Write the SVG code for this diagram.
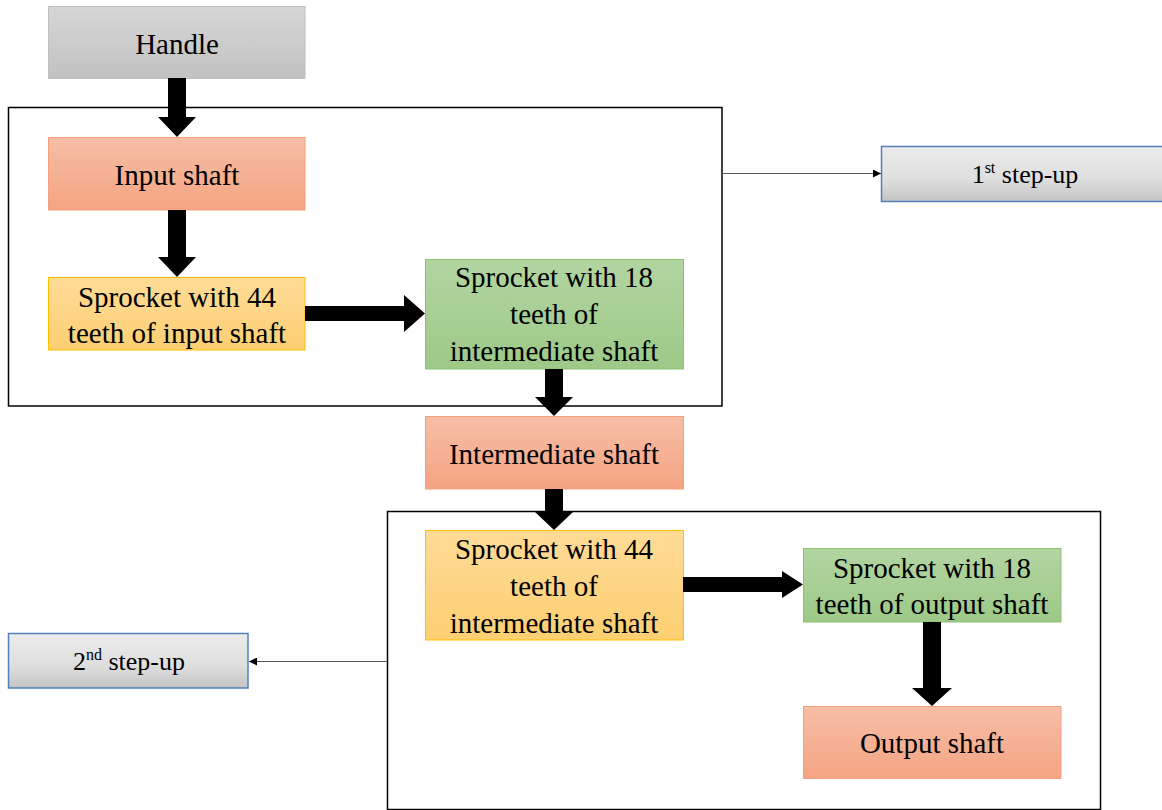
<svg xmlns="http://www.w3.org/2000/svg" width="1162" height="810" viewBox="0 0 1162 810">
<defs>
<linearGradient id="gGray" x1="0" y1="0" x2="0" y2="1"><stop offset="0" stop-color="#d6d6d6"/><stop offset="1" stop-color="#c2c2c2"/></linearGradient>
<linearGradient id="gStep" x1="0" y1="0" x2="0" y2="1"><stop offset="0" stop-color="#ececec"/><stop offset="0.6" stop-color="#dedede"/><stop offset="1" stop-color="#c4c4c4"/></linearGradient>
<linearGradient id="gSalmon" x1="0" y1="0" x2="0" y2="1"><stop offset="0" stop-color="#f7bea6"/><stop offset="1" stop-color="#f4a482"/></linearGradient>
<linearGradient id="gYellow" x1="0" y1="0" x2="0" y2="1"><stop offset="0" stop-color="#fedb97"/><stop offset="1" stop-color="#fdcf72"/></linearGradient>
<linearGradient id="gGreen" x1="0" y1="0" x2="0" y2="1"><stop offset="0" stop-color="#b2d5a2"/><stop offset="1" stop-color="#9dc987"/></linearGradient>
<marker id="sm" viewBox="0 0 10 10" refX="10" refY="5" markerWidth="8" markerHeight="8" markerUnits="userSpaceOnUse" orient="auto"><path d="M0,0 L10,5 L0,10 z" fill="#000"/></marker>
</defs>
<style>
text{font-family:"Liberation Serif","Times New Roman",serif;font-size:29px;fill:#000;text-anchor:middle}
text.s{font-size:26px}
.gray{fill:url(#gGray);stroke:#bfbfbf;stroke-width:1}
.salmon{fill:url(#gSalmon);stroke:#f4a07e;stroke-width:1}
.yellow{fill:url(#gYellow);stroke:#ffc000;stroke-width:1}
.green{fill:url(#gGreen);stroke:#8cc170;stroke-width:1}
.step{fill:url(#gStep);stroke:#4f81bd;stroke-width:1.5}
.frame{fill:none;stroke:#000;stroke-width:1.5}
.thin{fill:none;stroke:#555;stroke-width:1;marker-end:url(#sm)}
.big{fill:#000}
</style>
<g id="frames">
<rect class="frame" x="8.5" y="107.5" width="713.5" height="298.5"/>
<rect class="frame" x="387.5" y="511.5" width="713" height="298"/>
</g>
<g id="handle"><rect class="gray" x="48.5" y="6.5" width="256.5" height="72"/><text x="177" y="54">Handle</text></g>
<g id="input-shaft"><rect class="salmon" x="48.5" y="137.5" width="256.5" height="72.5"/><text x="177" y="185">Input shaft</text></g>
<g id="sprocket44-input"><rect class="yellow" x="48.5" y="277.5" width="256.5" height="72.5"/><text x="177" y="307">Sprocket with 44</text><text x="177" y="343">teeth of input shaft</text></g>
<g id="sprocket18-intermediate"><rect class="green" x="425.5" y="259.5" width="258" height="109.5"/><text x="554" y="287">Sprocket with 18</text><text x="554" y="324">teeth of</text><text x="554" y="361">intermediate shaft</text></g>
<g id="intermediate-shaft"><rect class="salmon" x="425.5" y="416.5" width="258" height="72.5"/><text x="554" y="464">Intermediate shaft</text></g>
<g id="sprocket44-intermediate"><rect class="yellow" x="425.5" y="530.5" width="258" height="109.5"/><text x="554" y="559">Sprocket with 44</text><text x="554" y="596">teeth of</text><text x="554" y="633">intermediate shaft</text></g>
<g id="sprocket18-output"><rect class="green" x="803.5" y="548.5" width="257.5" height="73.5"/><text x="932" y="578">Sprocket with 18</text><text x="932" y="614">teeth of output shaft</text></g>
<g id="output-shaft"><rect class="salmon" x="803.5" y="706.5" width="257.5" height="72"/><text x="932" y="753">Output shaft</text></g>
<g id="step1"><rect class="step" x="881.5" y="146.5" width="282" height="55"/><text class="s" x="1025" y="183">1<tspan font-size="16" dy="-10">st</tspan><tspan dy="10"> step-up</tspan></text></g>
<g id="step2"><rect class="step" x="8.5" y="633.5" width="239.5" height="54.5"/><text class="s" x="129" y="670">2<tspan font-size="16" dy="-10">nd</tspan><tspan dy="10"> step-up</tspan></text></g>
<g id="connectors">
<path class="big" d="M168,78 H186 V117 H196 L177,137 L158,117 H168 Z"/>
<path class="big" d="M168,210 H186 V257 H196 L177,277 L158,257 H168 Z"/>
<path class="big" d="M305,306 H404 V295 L425,313.5 L404,332 V321 H305 Z"/>
<path class="big" d="M545,369 H563 V397 H573 L554,416 L535,397 H545 Z"/>
<path class="big" d="M545,489 H563 V512 H573 L554,530 L535,512 H545 Z"/>
<path class="big" d="M683,577 H782 V571 L803,584.5 L782,598 V592 H683 Z"/>
<path class="big" d="M923,622 H941 V688 H952 L932,706 L912,688 H923 Z"/>
<line class="thin" x1="722" y1="173.5" x2="881" y2="173.5"/>
<line class="thin" x1="387" y1="661.5" x2="249" y2="661.5"/>
</g>
</svg>
